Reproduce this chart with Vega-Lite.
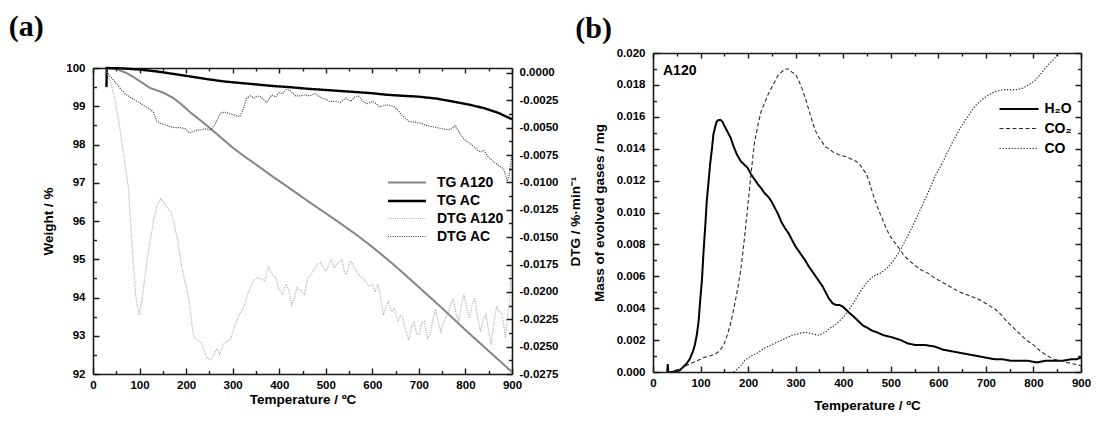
{
"$schema": "https://vega.github.io/schema/vega-lite/v6.json",
"background": "white",
"padding": {"left": 8, "top": 12, "right": 0, "bottom": 0},
"spacing": -7,
"config": {
  "view": {"stroke": null},
  "axis": {"grid": false, "domainColor": "#1a1a1a", "domainWidth": 1.6, "tickColor": "#1a1a1a", "tickWidth": 1.4,
    "labelFont": "Liberation Sans", "labelFontWeight": "bold", "labelFontSize": 11.5, "labelColor": "#000",
    "titleFont": "Liberation Sans", "titleFontWeight": "bold", "titleFontSize": 13.5, "titleColor": "#000",
    "labelFlush": false, "labelOverlap": false, "labelBound": false},
  "legend": {"labelFont": "Liberation Sans", "labelFontWeight": "bold", "labelFontSize": 14, "labelColor": "#000", "padding": 0}
},
"datasets": {
"tg": [
{"T":30,"W":100,"s":"TG A120"},{"T":50,"W":99.97,"s":"TG A120"},{"T":70,"W":99.88,"s":"TG A120"},{"T":90,"W":99.74,"s":"TG A120"},{"T":110,"W":99.58,"s":"TG A120"},{"T":122,"W":99.48,"s":"TG A120"},{"T":150,"W":99.36,"s":"TG A120"},{"T":172,"W":99.22,"s":"TG A120"},{"T":190,"W":99.05,"s":"TG A120"},{"T":208,"W":98.85,"s":"TG A120"},{"T":230,"W":98.64,"s":"TG A120"},{"T":251,"W":98.43,"s":"TG A120"},{"T":275,"W":98.18,"s":"TG A120"},{"T":301,"W":97.91,"s":"TG A120"},{"T":325,"W":97.69,"s":"TG A120"},{"T":351,"W":97.47,"s":"TG A120"},{"T":385,"W":97.17,"s":"TG A120"},{"T":422,"W":96.86,"s":"TG A120"},{"T":458,"W":96.55,"s":"TG A120"},{"T":494,"W":96.25,"s":"TG A120"},{"T":530,"W":95.95,"s":"TG A120"},{"T":566,"W":95.64,"s":"TG A120"},{"T":600,"W":95.32,"s":"TG A120"},{"T":637,"W":94.95,"s":"TG A120"},{"T":670,"W":94.6,"s":"TG A120"},{"T":700,"W":94.27,"s":"TG A120"},{"T":750,"W":93.72,"s":"TG A120"},{"T":800,"W":93.15,"s":"TG A120"},{"T":850,"W":92.6,"s":"TG A120"},{"T":900,"W":92.05,"s":"TG A120"},
{"T":29,"W":99.5,"s":"TG AC"},{"T":29.5,"W":100,"s":"TG AC"},{"T":60,"W":99.99,"s":"TG AC"},{"T":100,"W":99.96,"s":"TG AC"},{"T":137,"W":99.91,"s":"TG AC"},{"T":170,"W":99.85,"s":"TG AC"},{"T":208,"W":99.78,"s":"TG AC"},{"T":245,"W":99.71,"s":"TG AC"},{"T":280,"W":99.65,"s":"TG AC"},{"T":315,"W":99.61,"s":"TG AC"},{"T":351,"W":99.57,"s":"TG AC"},{"T":385,"W":99.53,"s":"TG AC"},{"T":422,"W":99.5,"s":"TG AC"},{"T":458,"W":99.46,"s":"TG AC"},{"T":494,"W":99.43,"s":"TG AC"},{"T":530,"W":99.4,"s":"TG AC"},{"T":566,"W":99.37,"s":"TG AC"},{"T":600,"W":99.34,"s":"TG AC"},{"T":631,"W":99.3,"s":"TG AC"},{"T":670,"W":99.27,"s":"TG AC"},{"T":700,"W":99.25,"s":"TG AC"},{"T":738,"W":99.2,"s":"TG AC"},{"T":770,"W":99.13,"s":"TG AC"},{"T":809,"W":99.04,"s":"TG AC"},{"T":840,"W":98.95,"s":"TG AC"},{"T":870,"W":98.83,"s":"TG AC"},{"T":900,"W":98.66,"s":"TG AC"}
],
"dtg": [
{"T":28,"D":0.0003,"s":"DTG A120"},{"T":35,"D":-0.0005,"s":"DTG A120"},{"T":45,"D":-0.002,"s":"DTG A120"},{"T":55,"D":-0.0043,"s":"DTG A120"},{"T":65,"D":-0.0072,"s":"DTG A120"},{"T":76,"D":-0.0105,"s":"DTG A120"},{"T":85,"D":-0.0165,"s":"DTG A120"},{"T":92,"D":-0.0205,"s":"DTG A120"},{"T":99,"D":-0.0221,"s":"DTG A120"},{"T":106,"D":-0.0205,"s":"DTG A120"},{"T":114,"D":-0.0178,"s":"DTG A120"},{"T":122,"D":-0.0155,"s":"DTG A120"},{"T":130,"D":-0.0135,"s":"DTG A120"},{"T":138,"D":-0.012,"s":"DTG A120"},{"T":145,"D":-0.0115,"s":"DTG A120"},{"T":152,"D":-0.0118,"s":"DTG A120"},{"T":160,"D":-0.0124,"s":"DTG A120"},{"T":168,"D":-0.0127,"s":"DTG A120"},{"T":175,"D":-0.014,"s":"DTG A120"},{"T":182,"D":-0.0153,"s":"DTG A120"},{"T":191,"D":-0.0178,"s":"DTG A120"},{"T":200,"D":-0.0195,"s":"DTG A120"},{"T":207,"D":-0.021,"s":"DTG A120"},{"T":213,"D":-0.0232,"s":"DTG A120"},{"T":218,"D":-0.0242,"s":"DTG A120"},{"T":225,"D":-0.0244,"s":"DTG A120"},{"T":232,"D":-0.0246,"s":"DTG A120"},{"T":240,"D":-0.0255,"s":"DTG A120"},{"T":246,"D":-0.0261,"s":"DTG A120"},{"T":253,"D":-0.0262,"s":"DTG A120"},{"T":260,"D":-0.0257,"s":"DTG A120"},{"T":266,"D":-0.0252,"s":"DTG A120"},{"T":272,"D":-0.0257,"s":"DTG A120"},{"T":280,"D":-0.0248,"s":"DTG A120"},{"T":288,"D":-0.0245,"s":"DTG A120"},{"T":295,"D":-0.0244,"s":"DTG A120"},{"T":300,"D":-0.0237,"s":"DTG A120"},{"T":307,"D":-0.0228,"s":"DTG A120"},{"T":315,"D":-0.022,"s":"DTG A120"},{"T":323,"D":-0.0215,"s":"DTG A120"},{"T":330,"D":-0.0205,"s":"DTG A120"},{"T":338,"D":-0.0196,"s":"DTG A120"},{"T":345,"D":-0.0189,"s":"DTG A120"},{"T":353,"D":-0.0187,"s":"DTG A120"},{"T":361,"D":-0.0188,"s":"DTG A120"},{"T":369,"D":-0.019,"s":"DTG A120"},{"T":377,"D":-0.0177,"s":"DTG A120"},{"T":385,"D":-0.0184,"s":"DTG A120"},{"T":392,"D":-0.0187,"s":"DTG A120"},{"T":400,"D":-0.0198,"s":"DTG A120"},{"T":407,"D":-0.0202,"s":"DTG A120"},{"T":415,"D":-0.0193,"s":"DTG A120"},{"T":421,"D":-0.0199,"s":"DTG A120"},{"T":427,"D":-0.0212,"s":"DTG A120"},{"T":433,"D":-0.0205,"s":"DTG A120"},{"T":438,"D":-0.0196,"s":"DTG A120"},{"T":446,"D":-0.0199,"s":"DTG A120"},{"T":454,"D":-0.0202,"s":"DTG A120"},{"T":462,"D":-0.0187,"s":"DTG A120"},{"T":470,"D":-0.0183,"s":"DTG A120"},{"T":477,"D":-0.0178,"s":"DTG A120"},{"T":485,"D":-0.0174,"s":"DTG A120"},{"T":489,"D":-0.0173,"s":"DTG A120"},{"T":495,"D":-0.0178,"s":"DTG A120"},{"T":500,"D":-0.0181,"s":"DTG A120"},{"T":506,"D":-0.0176,"s":"DTG A120"},{"T":512,"D":-0.017,"s":"DTG A120"},{"T":518,"D":-0.0178,"s":"DTG A120"},{"T":523,"D":-0.0175,"s":"DTG A120"},{"T":530,"D":-0.0172,"s":"DTG A120"},{"T":535,"D":-0.017,"s":"DTG A120"},{"T":540,"D":-0.0182,"s":"DTG A120"},{"T":545,"D":-0.0184,"s":"DTG A120"},{"T":550,"D":-0.0175,"s":"DTG A120"},{"T":554,"D":-0.0172,"s":"DTG A120"},{"T":562,"D":-0.0178,"s":"DTG A120"},{"T":570,"D":-0.0184,"s":"DTG A120"},{"T":578,"D":-0.0187,"s":"DTG A120"},{"T":585,"D":-0.019,"s":"DTG A120"},{"T":592,"D":-0.0195,"s":"DTG A120"},{"T":600,"D":-0.0193,"s":"DTG A120"},{"T":606,"D":-0.02,"s":"DTG A120"},{"T":612,"D":-0.0193,"s":"DTG A120"},{"T":618,"D":-0.0205,"s":"DTG A120"},{"T":624,"D":-0.0221,"s":"DTG A120"},{"T":630,"D":-0.0212,"s":"DTG A120"},{"T":635,"D":-0.0209,"s":"DTG A120"},{"T":641,"D":-0.0218,"s":"DTG A120"},{"T":647,"D":-0.0215,"s":"DTG A120"},{"T":655,"D":-0.0227,"s":"DTG A120"},{"T":660,"D":-0.0222,"s":"DTG A120"},{"T":666,"D":-0.0224,"s":"DTG A120"},{"T":672,"D":-0.0236,"s":"DTG A120"},{"T":678,"D":-0.0244,"s":"DTG A120"},{"T":684,"D":-0.0232,"s":"DTG A120"},{"T":689,"D":-0.0227,"s":"DTG A120"},{"T":695,"D":-0.0238,"s":"DTG A120"},{"T":701,"D":-0.0239,"s":"DTG A120"},{"T":706,"D":-0.0228,"s":"DTG A120"},{"T":712,"D":-0.0227,"s":"DTG A120"},{"T":718,"D":-0.0242,"s":"DTG A120"},{"T":724,"D":-0.0239,"s":"DTG A120"},{"T":730,"D":-0.0225,"s":"DTG A120"},{"T":736,"D":-0.0216,"s":"DTG A120"},{"T":742,"D":-0.0228,"s":"DTG A120"},{"T":747,"D":-0.0236,"s":"DTG A120"},{"T":755,"D":-0.0226,"s":"DTG A120"},{"T":763,"D":-0.0219,"s":"DTG A120"},{"T":768,"D":-0.0212,"s":"DTG A120"},{"T":774,"D":-0.0206,"s":"DTG A120"},{"T":780,"D":-0.022,"s":"DTG A120"},{"T":786,"D":-0.0227,"s":"DTG A120"},{"T":792,"D":-0.021,"s":"DTG A120"},{"T":797,"D":-0.0202,"s":"DTG A120"},{"T":803,"D":-0.0215,"s":"DTG A120"},{"T":809,"D":-0.0224,"s":"DTG A120"},{"T":815,"D":-0.021,"s":"DTG A120"},{"T":820,"D":-0.0207,"s":"DTG A120"},{"T":826,"D":-0.0222,"s":"DTG A120"},{"T":832,"D":-0.0236,"s":"DTG A120"},{"T":838,"D":-0.0225,"s":"DTG A120"},{"T":844,"D":-0.0221,"s":"DTG A120"},{"T":850,"D":-0.0235,"s":"DTG A120"},{"T":855,"D":-0.0248,"s":"DTG A120"},{"T":861,"D":-0.0228,"s":"DTG A120"},{"T":867,"D":-0.0213,"s":"DTG A120"},{"T":872,"D":-0.0218,"s":"DTG A120"},{"T":878,"D":-0.0219,"s":"DTG A120"},{"T":882,"D":-0.023,"s":"DTG A120"},{"T":886,"D":-0.0242,"s":"DTG A120"},{"T":890,"D":-0.0225,"s":"DTG A120"},{"T":894,"D":-0.0209,"s":"DTG A120"},{"T":897,"D":-0.019,"s":"DTG A120"},{"T":900,"D":-0.0166,"s":"DTG A120"},
{"T":28,"D":0.0003,"s":"DTG AC"},{"T":35,"D":-0.0002,"s":"DTG AC"},{"T":45,"D":-0.0007,"s":"DTG AC"},{"T":60,"D":-0.0015,"s":"DTG AC"},{"T":72,"D":-0.002,"s":"DTG AC"},{"T":83,"D":-0.0023,"s":"DTG AC"},{"T":99,"D":-0.0027,"s":"DTG AC"},{"T":110,"D":-0.003,"s":"DTG AC"},{"T":122,"D":-0.0033,"s":"DTG AC"},{"T":130,"D":-0.0036,"s":"DTG AC"},{"T":137,"D":-0.0044,"s":"DTG AC"},{"T":145,"D":-0.0046,"s":"DTG AC"},{"T":153,"D":-0.0047,"s":"DTG AC"},{"T":165,"D":-0.0049,"s":"DTG AC"},{"T":176,"D":-0.005,"s":"DTG AC"},{"T":188,"D":-0.005,"s":"DTG AC"},{"T":199,"D":-0.0051,"s":"DTG AC"},{"T":207,"D":-0.0055,"s":"DTG AC"},{"T":218,"D":-0.0053,"s":"DTG AC"},{"T":230,"D":-0.0052,"s":"DTG AC"},{"T":242,"D":-0.0051,"s":"DTG AC"},{"T":253,"D":-0.0052,"s":"DTG AC"},{"T":262,"D":-0.0047,"s":"DTG AC"},{"T":270,"D":-0.004,"s":"DTG AC"},{"T":276,"D":-0.0036,"s":"DTG AC"},{"T":285,"D":-0.0036,"s":"DTG AC"},{"T":292,"D":-0.0037,"s":"DTG AC"},{"T":300,"D":-0.0038,"s":"DTG AC"},{"T":315,"D":-0.004,"s":"DTG AC"},{"T":322,"D":-0.0034,"s":"DTG AC"},{"T":330,"D":-0.0023,"s":"DTG AC"},{"T":338,"D":-0.0021,"s":"DTG AC"},{"T":346,"D":-0.0023,"s":"DTG AC"},{"T":353,"D":-0.0021,"s":"DTG AC"},{"T":361,"D":-0.0022,"s":"DTG AC"},{"T":373,"D":-0.0027,"s":"DTG AC"},{"T":384,"D":-0.002,"s":"DTG AC"},{"T":392,"D":-0.0022,"s":"DTG AC"},{"T":400,"D":-0.0018,"s":"DTG AC"},{"T":407,"D":-0.0019,"s":"DTG AC"},{"T":415,"D":-0.0015,"s":"DTG AC"},{"T":423,"D":-0.0016,"s":"DTG AC"},{"T":435,"D":-0.0021,"s":"DTG AC"},{"T":446,"D":-0.0021,"s":"DTG AC"},{"T":454,"D":-0.002,"s":"DTG AC"},{"T":465,"D":-0.0021,"s":"DTG AC"},{"T":477,"D":-0.0019,"s":"DTG AC"},{"T":485,"D":-0.0021,"s":"DTG AC"},{"T":492,"D":-0.0023,"s":"DTG AC"},{"T":500,"D":-0.0024,"s":"DTG AC"},{"T":508,"D":-0.0026,"s":"DTG AC"},{"T":520,"D":-0.0026,"s":"DTG AC"},{"T":531,"D":-0.0027,"s":"DTG AC"},{"T":543,"D":-0.0023,"s":"DTG AC"},{"T":554,"D":-0.0026,"s":"DTG AC"},{"T":562,"D":-0.0022,"s":"DTG AC"},{"T":570,"D":-0.0021,"s":"DTG AC"},{"T":576,"D":-0.0024,"s":"DTG AC"},{"T":582,"D":-0.0027,"s":"DTG AC"},{"T":590,"D":-0.0028,"s":"DTG AC"},{"T":600,"D":-0.0026,"s":"DTG AC"},{"T":608,"D":-0.0028,"s":"DTG AC"},{"T":616,"D":-0.0031,"s":"DTG AC"},{"T":624,"D":-0.003,"s":"DTG AC"},{"T":631,"D":-0.0029,"s":"DTG AC"},{"T":640,"D":-0.003,"s":"DTG AC"},{"T":647,"D":-0.0031,"s":"DTG AC"},{"T":655,"D":-0.0034,"s":"DTG AC"},{"T":662,"D":-0.0038,"s":"DTG AC"},{"T":670,"D":-0.0041,"s":"DTG AC"},{"T":678,"D":-0.0044,"s":"DTG AC"},{"T":685,"D":-0.0045,"s":"DTG AC"},{"T":693,"D":-0.0045,"s":"DTG AC"},{"T":705,"D":-0.0046,"s":"DTG AC"},{"T":716,"D":-0.0048,"s":"DTG AC"},{"T":728,"D":-0.0049,"s":"DTG AC"},{"T":739,"D":-0.005,"s":"DTG AC"},{"T":750,"D":-0.0051,"s":"DTG AC"},{"T":763,"D":-0.0052,"s":"DTG AC"},{"T":770,"D":-0.0051,"s":"DTG AC"},{"T":778,"D":-0.0048,"s":"DTG AC"},{"T":786,"D":-0.0054,"s":"DTG AC"},{"T":794,"D":-0.0059,"s":"DTG AC"},{"T":801,"D":-0.0062,"s":"DTG AC"},{"T":809,"D":-0.0064,"s":"DTG AC"},{"T":817,"D":-0.0067,"s":"DTG AC"},{"T":824,"D":-0.007,"s":"DTG AC"},{"T":832,"D":-0.0072,"s":"DTG AC"},{"T":840,"D":-0.0071,"s":"DTG AC"},{"T":848,"D":-0.0076,"s":"DTG AC"},{"T":855,"D":-0.0079,"s":"DTG AC"},{"T":863,"D":-0.0082,"s":"DTG AC"},{"T":870,"D":-0.0084,"s":"DTG AC"},{"T":876,"D":-0.0086,"s":"DTG AC"},{"T":882,"D":-0.0088,"s":"DTG AC"},{"T":886,"D":-0.0093,"s":"DTG AC"},{"T":890,"D":-0.0099,"s":"DTG AC"},{"T":894,"D":-0.0093,"s":"DTG AC"},{"T":897,"D":-0.0084,"s":"DTG AC"},{"T":900,"D":-0.0074,"s":"DTG AC"}
],
"gas": [
{"T":30,"M":0,"s":"H₂O"},{"T":31,"M":0.0005,"s":"H₂O"},{"T":32,"M":0,"s":"H₂O"},{"T":41,"M":0,"s":"H₂O"},{"T":50,"M":0.0001,"s":"H₂O"},{"T":56,"M":0.0001,"s":"H₂O"},{"T":63,"M":0.0003,"s":"H₂O"},{"T":70,"M":0.0005,"s":"H₂O"},{"T":77,"M":0.0008,"s":"H₂O"},{"T":84,"M":0.0013,"s":"H₂O"},{"T":88,"M":0.0017,"s":"H₂O"},{"T":92,"M":0.0023,"s":"H₂O"},{"T":96,"M":0.0032,"s":"H₂O"},{"T":99,"M":0.0044,"s":"H₂O"},{"T":103,"M":0.0058,"s":"H₂O"},{"T":106,"M":0.0074,"s":"H₂O"},{"T":110,"M":0.0092,"s":"H₂O"},{"T":113,"M":0.0107,"s":"H₂O"},{"T":117,"M":0.012,"s":"H₂O"},{"T":120,"M":0.013,"s":"H₂O"},{"T":124,"M":0.014,"s":"H₂O"},{"T":127,"M":0.0149,"s":"H₂O"},{"T":131,"M":0.0154,"s":"H₂O"},{"T":134,"M":0.0157,"s":"H₂O"},{"T":138,"M":0.0158,"s":"H₂O"},{"T":142,"M":0.0158,"s":"H₂O"},{"T":146,"M":0.0157,"s":"H₂O"},{"T":149,"M":0.0155,"s":"H₂O"},{"T":156,"M":0.0151,"s":"H₂O"},{"T":163,"M":0.0147,"s":"H₂O"},{"T":170,"M":0.0141,"s":"H₂O"},{"T":177,"M":0.0136,"s":"H₂O"},{"T":185,"M":0.0132,"s":"H₂O"},{"T":192,"M":0.013,"s":"H₂O"},{"T":199,"M":0.0128,"s":"H₂O"},{"T":206,"M":0.0124,"s":"H₂O"},{"T":213,"M":0.0121,"s":"H₂O"},{"T":220,"M":0.0118,"s":"H₂O"},{"T":228,"M":0.0115,"s":"H₂O"},{"T":235,"M":0.0112,"s":"H₂O"},{"T":242,"M":0.011,"s":"H₂O"},{"T":249,"M":0.0107,"s":"H₂O"},{"T":256,"M":0.0103,"s":"H₂O"},{"T":263,"M":0.0099,"s":"H₂O"},{"T":270,"M":0.0094,"s":"H₂O"},{"T":278,"M":0.009,"s":"H₂O"},{"T":285,"M":0.0087,"s":"H₂O"},{"T":292,"M":0.0083,"s":"H₂O"},{"T":299,"M":0.0079,"s":"H₂O"},{"T":306,"M":0.0076,"s":"H₂O"},{"T":313,"M":0.0073,"s":"H₂O"},{"T":320,"M":0.007,"s":"H₂O"},{"T":328,"M":0.0066,"s":"H₂O"},{"T":335,"M":0.0063,"s":"H₂O"},{"T":342,"M":0.006,"s":"H₂O"},{"T":349,"M":0.0057,"s":"H₂O"},{"T":356,"M":0.0054,"s":"H₂O"},{"T":363,"M":0.005,"s":"H₂O"},{"T":370,"M":0.0046,"s":"H₂O"},{"T":378,"M":0.0043,"s":"H₂O"},{"T":385,"M":0.0042,"s":"H₂O"},{"T":392,"M":0.0042,"s":"H₂O"},{"T":399,"M":0.0041,"s":"H₂O"},{"T":406,"M":0.0039,"s":"H₂O"},{"T":413,"M":0.0037,"s":"H₂O"},{"T":421,"M":0.0035,"s":"H₂O"},{"T":428,"M":0.0033,"s":"H₂O"},{"T":435,"M":0.0031,"s":"H₂O"},{"T":442,"M":0.0029,"s":"H₂O"},{"T":449,"M":0.0028,"s":"H₂O"},{"T":460,"M":0.0026,"s":"H₂O"},{"T":470,"M":0.0025,"s":"H₂O"},{"T":485,"M":0.0023,"s":"H₂O"},{"T":500,"M":0.0022,"s":"H₂O"},{"T":521,"M":0.002,"s":"H₂O"},{"T":535,"M":0.0018,"s":"H₂O"},{"T":550,"M":0.0017,"s":"H₂O"},{"T":570,"M":0.0017,"s":"H₂O"},{"T":592,"M":0.0016,"s":"H₂O"},{"T":610,"M":0.0014,"s":"H₂O"},{"T":628,"M":0.0013,"s":"H₂O"},{"T":646,"M":0.0012,"s":"H₂O"},{"T":664,"M":0.0011,"s":"H₂O"},{"T":682,"M":0.001,"s":"H₂O"},{"T":700,"M":0.0009,"s":"H₂O"},{"T":718,"M":0.0008,"s":"H₂O"},{"T":735,"M":0.0008,"s":"H₂O"},{"T":753,"M":0.0007,"s":"H₂O"},{"T":771,"M":0.0007,"s":"H₂O"},{"T":789,"M":0.0007,"s":"H₂O"},{"T":807,"M":0.0006,"s":"H₂O"},{"T":825,"M":0.0007,"s":"H₂O"},{"T":843,"M":0.0007,"s":"H₂O"},{"T":861,"M":0.0007,"s":"H₂O"},{"T":879,"M":0.0008,"s":"H₂O"},{"T":890,"M":0.0008,"s":"H₂O"},{"T":900,"M":0.0009,"s":"H₂O"},
{"T":30,"M":0,"s":"CO₂"},{"T":41,"M":0,"s":"CO₂"},{"T":52,"M":0.0001,"s":"CO₂"},{"T":63,"M":0.0003,"s":"CO₂"},{"T":77,"M":0.0005,"s":"CO₂"},{"T":92,"M":0.0007,"s":"CO₂"},{"T":106,"M":0.0009,"s":"CO₂"},{"T":120,"M":0.001,"s":"CO₂"},{"T":135,"M":0.0012,"s":"CO₂"},{"T":142,"M":0.0014,"s":"CO₂"},{"T":149,"M":0.0017,"s":"CO₂"},{"T":156,"M":0.0023,"s":"CO₂"},{"T":163,"M":0.003,"s":"CO₂"},{"T":170,"M":0.004,"s":"CO₂"},{"T":178,"M":0.0052,"s":"CO₂"},{"T":185,"M":0.0065,"s":"CO₂"},{"T":192,"M":0.0083,"s":"CO₂"},{"T":199,"M":0.0103,"s":"CO₂"},{"T":206,"M":0.0124,"s":"CO₂"},{"T":213,"M":0.0143,"s":"CO₂"},{"T":220,"M":0.0154,"s":"CO₂"},{"T":227,"M":0.0163,"s":"CO₂"},{"T":235,"M":0.0169,"s":"CO₂"},{"T":242,"M":0.0174,"s":"CO₂"},{"T":249,"M":0.0178,"s":"CO₂"},{"T":256,"M":0.0182,"s":"CO₂"},{"T":263,"M":0.0186,"s":"CO₂"},{"T":270,"M":0.0188,"s":"CO₂"},{"T":278,"M":0.019,"s":"CO₂"},{"T":285,"M":0.019,"s":"CO₂"},{"T":292,"M":0.0188,"s":"CO₂"},{"T":299,"M":0.0187,"s":"CO₂"},{"T":306,"M":0.0183,"s":"CO₂"},{"T":313,"M":0.0178,"s":"CO₂"},{"T":320,"M":0.0172,"s":"CO₂"},{"T":328,"M":0.0164,"s":"CO₂"},{"T":335,"M":0.0157,"s":"CO₂"},{"T":342,"M":0.0151,"s":"CO₂"},{"T":349,"M":0.0147,"s":"CO₂"},{"T":356,"M":0.0144,"s":"CO₂"},{"T":363,"M":0.0141,"s":"CO₂"},{"T":370,"M":0.014,"s":"CO₂"},{"T":378,"M":0.0138,"s":"CO₂"},{"T":385,"M":0.0137,"s":"CO₂"},{"T":392,"M":0.0136,"s":"CO₂"},{"T":406,"M":0.0135,"s":"CO₂"},{"T":421,"M":0.0133,"s":"CO₂"},{"T":428,"M":0.0132,"s":"CO₂"},{"T":435,"M":0.013,"s":"CO₂"},{"T":442,"M":0.0127,"s":"CO₂"},{"T":449,"M":0.0124,"s":"CO₂"},{"T":456,"M":0.0118,"s":"CO₂"},{"T":463,"M":0.0111,"s":"CO₂"},{"T":470,"M":0.0105,"s":"CO₂"},{"T":478,"M":0.0099,"s":"CO₂"},{"T":485,"M":0.0094,"s":"CO₂"},{"T":492,"M":0.0089,"s":"CO₂"},{"T":499,"M":0.0085,"s":"CO₂"},{"T":506,"M":0.0082,"s":"CO₂"},{"T":514,"M":0.0079,"s":"CO₂"},{"T":521,"M":0.0076,"s":"CO₂"},{"T":528,"M":0.0073,"s":"CO₂"},{"T":535,"M":0.0071,"s":"CO₂"},{"T":542,"M":0.0069,"s":"CO₂"},{"T":550,"M":0.0067,"s":"CO₂"},{"T":564,"M":0.0064,"s":"CO₂"},{"T":578,"M":0.0062,"s":"CO₂"},{"T":592,"M":0.0059,"s":"CO₂"},{"T":610,"M":0.0056,"s":"CO₂"},{"T":628,"M":0.0053,"s":"CO₂"},{"T":646,"M":0.005,"s":"CO₂"},{"T":664,"M":0.0048,"s":"CO₂"},{"T":682,"M":0.0046,"s":"CO₂"},{"T":700,"M":0.0043,"s":"CO₂"},{"T":710,"M":0.0041,"s":"CO₂"},{"T":721,"M":0.0039,"s":"CO₂"},{"T":732,"M":0.0036,"s":"CO₂"},{"T":743,"M":0.0032,"s":"CO₂"},{"T":757,"M":0.0028,"s":"CO₂"},{"T":771,"M":0.0024,"s":"CO₂"},{"T":785,"M":0.002,"s":"CO₂"},{"T":800,"M":0.0017,"s":"CO₂"},{"T":815,"M":0.0013,"s":"CO₂"},{"T":830,"M":0.001,"s":"CO₂"},{"T":843,"M":0.0008,"s":"CO₂"},{"T":857,"M":0.0007,"s":"CO₂"},{"T":871,"M":0.0006,"s":"CO₂"},{"T":885,"M":0.0005,"s":"CO₂"},{"T":900,"M":0.0004,"s":"CO₂"},
{"T":170,"M":0,"s":"CO"},{"T":178,"M":0.0002,"s":"CO"},{"T":185,"M":0.0004,"s":"CO"},{"T":192,"M":0.0007,"s":"CO"},{"T":206,"M":0.001,"s":"CO"},{"T":220,"M":0.0012,"s":"CO"},{"T":235,"M":0.0015,"s":"CO"},{"T":249,"M":0.0017,"s":"CO"},{"T":263,"M":0.0019,"s":"CO"},{"T":278,"M":0.0021,"s":"CO"},{"T":292,"M":0.0023,"s":"CO"},{"T":306,"M":0.0024,"s":"CO"},{"T":320,"M":0.0025,"s":"CO"},{"T":335,"M":0.0024,"s":"CO"},{"T":349,"M":0.0023,"s":"CO"},{"T":356,"M":0.0024,"s":"CO"},{"T":363,"M":0.0025,"s":"CO"},{"T":370,"M":0.0027,"s":"CO"},{"T":385,"M":0.003,"s":"CO"},{"T":399,"M":0.0034,"s":"CO"},{"T":410,"M":0.0038,"s":"CO"},{"T":421,"M":0.0043,"s":"CO"},{"T":435,"M":0.005,"s":"CO"},{"T":449,"M":0.0056,"s":"CO"},{"T":463,"M":0.006,"s":"CO"},{"T":478,"M":0.0062,"s":"CO"},{"T":492,"M":0.0065,"s":"CO"},{"T":506,"M":0.007,"s":"CO"},{"T":521,"M":0.0077,"s":"CO"},{"T":535,"M":0.0085,"s":"CO"},{"T":550,"M":0.0094,"s":"CO"},{"T":564,"M":0.0103,"s":"CO"},{"T":578,"M":0.0112,"s":"CO"},{"T":592,"M":0.0122,"s":"CO"},{"T":610,"M":0.0132,"s":"CO"},{"T":628,"M":0.0143,"s":"CO"},{"T":646,"M":0.0153,"s":"CO"},{"T":664,"M":0.0161,"s":"CO"},{"T":678,"M":0.0167,"s":"CO"},{"T":693,"M":0.0171,"s":"CO"},{"T":707,"M":0.0174,"s":"CO"},{"T":721,"M":0.0176,"s":"CO"},{"T":735,"M":0.0177,"s":"CO"},{"T":750,"M":0.0177,"s":"CO"},{"T":764,"M":0.0177,"s":"CO"},{"T":778,"M":0.0178,"s":"CO"},{"T":789,"M":0.018,"s":"CO"},{"T":800,"M":0.0182,"s":"CO"},{"T":810,"M":0.0185,"s":"CO"},{"T":821,"M":0.0189,"s":"CO"},{"T":832,"M":0.0193,"s":"CO"},{"T":843,"M":0.0196,"s":"CO"},{"T":853,"M":0.02,"s":"CO"},{"T":870,"M":0.0206,"s":"CO"},{"T":885,"M":0.0212,"s":"CO"},{"T":900,"M":0.0218,"s":"CO"}
],
"lbl": [{"T":21,"M":0.0189,"t":"A120"}]
},
"resolve": {"scale": {"color": "independent", "strokeDash": "independent", "strokeWidth": "independent"}},
"hconcat": [
{
  "width": 419, "height": 321,
  "title": {"text": "(a)", "font": "Liberation Serif", "fontSize": 30, "fontWeight": "bold", "color": "#000", "anchor": "start", "frame": "bounds", "dx": -33, "offset": 11},
  "layer": [
    {"data": {"name": "tg"}, "mark": {"type": "line", "clip": true},
     "encoding": {
       "x": {"field": "T", "type": "quantitative", "scale": {"domain": [0, 900], "nice": false, "zero": false},
             "axis": {"orient": "bottom", "values": [0,50,100,150,200,250,300,350,400,450,500,550,600,650,700,750,800,850,900],
                      "tickSize": -6,
                      "tickDash": {"condition": {"test": "datum.value % 100 !== 0", "value": [3.5, 20]}, "value": [1, 0]},
                      "labelExpr": "datum.value % 100 === 0 ? datum.label : ''", "labelPadding": 11.5,
                      "title": "Temperature / ºC", "titlePadding": 1}},
       "y": {"field": "W", "type": "quantitative", "scale": {"domain": [92, 100], "range": [321, 15], "nice": false, "zero": false},
             "axis": {"orient": "left", "values": [92,92.5,93,93.5,94,94.5,95,95.5,96,96.5,97,97.5,98,98.5,99,99.5,100],
                      "tickSize": -6,
                      "tickDash": {"condition": {"test": "datum.value % 1 !== 0", "value": [3.5, 20]}, "value": [1, 0]},
                      "labelExpr": "datum.value % 1 === 0 ? format(datum.value, 'd') : ''", "labelPadding": 14,
                      "title": "Weight / %", "titlePadding": 10}},
       "color": {"field": "s", "type": "nominal", "scale": {"domain": ["TG A120", "TG AC", "DTG A120", "DTG AC"], "range": ["#858585", "#000000", "#a8a8a8", "#3a3a3a"]},
                 "legend": {"orient": "none", "legendX": 303, "legendY": 119, "title": null, "symbolType": "M-2,0H2", "symbolSize": 361, "labelOffset": 19, "rowPadding": 0}},
       "strokeDash": {"field": "s", "type": "nominal", "scale": {"domain": ["TG A120", "TG AC", "DTG A120", "DTG AC"], "range": [[1,0],[1,0],[1,1.3],[1,1.3]]},
                 "legend": {"orient": "none", "legendX": 303, "legendY": 119, "title": null, "symbolType": "M-2,0H2", "symbolSize": 361, "labelOffset": 19, "rowPadding": 0}},
       "strokeWidth": {"field": "s", "type": "nominal", "scale": {"type": "ordinal", "domain": ["TG A120", "TG AC", "DTG A120", "DTG AC"], "range": [2, 2.4, 1.2, 1.2]},
                 "legend": {"orient": "none", "legendX": 303, "legendY": 119, "title": null, "symbolType": "M-2,0H2", "symbolSize": 361, "labelOffset": 19, "rowPadding": 0}}
     }},
    {"data": {"name": "dtg"}, "mark": {"type": "line", "clip": true},
     "encoding": {
       "x": {"field": "T", "type": "quantitative", "scale": {"domain": [0, 900], "nice": false, "zero": false},
             "axis": {"orient": "top", "offset": -15, "values": [0,50,100,150,200,250,300,350,400,450,500,550,600,650,700,750,800,850,900],
                      "tickSize": -5,
                      "tickDash": {"condition": {"test": "datum.value % 100 !== 0", "value": [3, 20]}, "value": [1, 0]},
                      "labels": false, "title": null}},
       "y": {"field": "D", "type": "quantitative", "scale": {"domain": [-0.0275, 0.00045], "range": [321, 15], "nice": false, "zero": false},
             "axis": {"orient": "right", "values": [-0.0275,-0.02625,-0.025,-0.02375,-0.0225,-0.02125,-0.02,-0.01875,-0.0175,-0.01625,-0.015,-0.01375,-0.0125,-0.01125,-0.01,-0.00875,-0.0075,-0.00625,-0.005,-0.00375,-0.0025,-0.00125,0],
                      "tickSize": -6,
                      "tickDash": {"condition": {"test": "abs(datum.value*400 - round(datum.value*400)) > 0.1", "value": [3.5, 20]}, "value": [1, 0]},
                      "labelExpr": "abs(datum.value*400 - round(datum.value*400)) > 0.1 ? '' : replace(format(datum.value, '.4f'), '\u2212', '-')",
                      "labelPadding": 13, "title": "DTG / %·min⁻¹", "titleAngle": 270, "titleBaseline": "top", "titlePadding": 10}},
       "color": {"field": "s", "type": "nominal", "scale": {"domain": ["TG A120", "TG AC", "DTG A120", "DTG AC"], "range": ["#858585", "#000000", "#a8a8a8", "#3a3a3a"]},
                 "legend": {"orient": "none", "legendX": 303, "legendY": 119, "title": null, "symbolType": "M-2,0H2", "symbolSize": 361, "labelOffset": 19, "rowPadding": 0}},
       "strokeDash": {"field": "s", "type": "nominal", "scale": {"domain": ["TG A120", "TG AC", "DTG A120", "DTG AC"], "range": [[1,0],[1,0],[1,1.3],[1,1.3]]},
                 "legend": {"orient": "none", "legendX": 303, "legendY": 119, "title": null, "symbolType": "M-2,0H2", "symbolSize": 361, "labelOffset": 19, "rowPadding": 0}},
       "strokeWidth": {"field": "s", "type": "nominal", "scale": {"type": "ordinal", "domain": ["TG A120", "TG AC", "DTG A120", "DTG AC"], "range": [2, 2.4, 1.2, 1.2]},
                 "legend": {"orient": "none", "legendX": 303, "legendY": 119, "title": null, "symbolType": "M-2,0H2", "symbolSize": 361, "labelOffset": 19, "rowPadding": 0}}
     }}
  ],
  "resolve": {"scale": {"y": "independent"}, "axis": {"x": "independent"}}
},
{
  "width": 428, "height": 319,
  "title": {"text": "(b)", "font": "Liberation Serif", "fontSize": 30, "fontWeight": "bold", "color": "#000", "anchor": "start", "frame": "bounds", "dx": -17, "offset": 3},
  "layer": [
    {"data": {"name": "gas"}, "mark": {"type": "line", "clip": true},
     "encoding": {
       "x": {"field": "T", "type": "quantitative", "scale": {"domain": [0, 900], "nice": false, "zero": false},
             "axis": {"orient": "bottom", "values": [0,50,100,150,200,250,300,350,400,450,500,550,600,650,700,750,800,850,900],
                      "tickSize": -6,
                      "tickDash": {"condition": {"test": "datum.value % 100 !== 0", "value": [3.5, 20]}, "value": [1, 0]},
                      "labelExpr": "datum.value % 100 === 0 ? datum.label : ''", "labelPadding": 11.5,
                      "title": "Temperature / ºC", "titlePadding": 9}},
       "y": {"field": "M", "type": "quantitative", "scale": {"domain": [0, 0.02], "nice": false, "zero": false},
             "axis": {"orient": "left", "values": [0,0.001,0.002,0.003,0.004,0.005,0.006,0.007,0.008,0.009,0.01,0.011,0.012,0.013,0.014,0.015,0.016,0.017,0.018,0.019,0.02],
                      "tickSize": -6,
                      "tickDash": {"condition": {"test": "abs(datum.value*500 - round(datum.value*500)) > 0.1", "value": [3.5, 20]}, "value": [1, 0]},
                      "labelExpr": "abs(datum.value*500 - round(datum.value*500)) > 0.1 ? '' : format(datum.value, '.3f')", "labelPadding": 14,
                      "title": "Mass of evolved gases / mg", "titlePadding": 10}},
       "color": {"field": "s", "type": "nominal", "scale": {"domain": ["H₂O", "CO₂", "CO"], "range": ["#000000", "#2a2a2a", "#2a2a2a"]},
                 "legend": {"orient": "none", "legendX": 355, "legendY": 45, "title": null, "symbolType": "M-2,0H2", "symbolSize": 380, "labelOffset": 14.5, "rowPadding": 2}},
       "strokeDash": {"field": "s", "type": "nominal", "scale": {"domain": ["H₂O", "CO₂", "CO"], "range": [[1,0],[4,2.5],[1.3,1.7]]},
                 "legend": {"orient": "none", "legendX": 355, "legendY": 45, "title": null, "symbolType": "M-2,0H2", "symbolSize": 380, "labelOffset": 14.5, "rowPadding": 2}},
       "strokeWidth": {"field": "s", "type": "nominal", "scale": {"type": "ordinal", "domain": ["H₂O", "CO₂", "CO"], "range": [2, 1.1, 1.2]},
                 "legend": {"orient": "none", "legendX": 355, "legendY": 45, "title": null, "symbolType": "M-2,0H2", "symbolSize": 380, "labelOffset": 14.5, "rowPadding": 2}}
     }},
    {"data": {"name": "lbl"}, "mark": {"type": "text", "align": "left", "baseline": "middle", "font": "Liberation Sans", "fontWeight": "bold", "fontSize": 14, "color": "#000"},
     "encoding": {
       "x": {"field": "T", "type": "quantitative", "scale": {"domain": [0, 900], "nice": false, "zero": false},
             "axis": {"orient": "top", "values": [0,50,100,150,200,250,300,350,400,450,500,550,600,650,700,750,800,850,900],
                      "tickSize": -5,
                      "tickDash": {"condition": {"test": "datum.value % 100 !== 0", "value": [3, 20]}, "value": [1, 0]},
                      "labels": false, "title": null}},
       "y": {"field": "M", "type": "quantitative", "scale": {"domain": [0, 0.02], "nice": false, "zero": false},
             "axis": {"orient": "right", "values": [0,0.001,0.002,0.003,0.004,0.005,0.006,0.007,0.008,0.009,0.01,0.011,0.012,0.013,0.014,0.015,0.016,0.017,0.018,0.019,0.02],
                      "tickSize": -6,
                      "tickDash": {"condition": {"test": "abs(datum.value*500 - round(datum.value*500)) > 0.1", "value": [3.5, 20]}, "value": [1, 0]},
                      "labels": false, "title": null}},
       "text": {"field": "t", "type": "nominal"}
     }}
  ],
  "resolve": {"axis": {"x": "independent", "y": "independent"}}
}
]
}
